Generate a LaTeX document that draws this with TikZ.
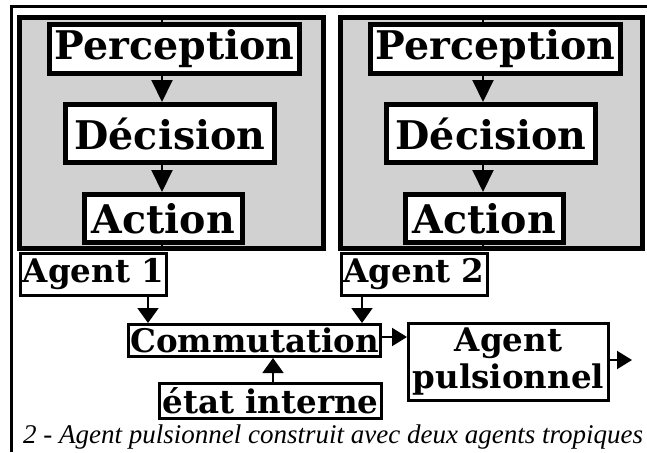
\documentclass[tikz,border=0pt]{standalone}
\usepackage{fontspec}
\setmainfont{DejaVu Serif}
\newfontfamily\capfont{Liberation Serif}
\usetikzlibrary{arrows.meta,calc}
\begin{document}
\begin{tikzpicture}[x=1pt,y=-1pt,
  agentbox/.style={draw, line width=5pt, fill=black!18, inner sep=0pt},
  bigbox/.style={draw, line width=5pt, fill=white, inner sep=0pt, font=\fontsize{39.5}{42}\selectfont\bfseries},
  smallbox/.style={draw, line width=3pt, fill=white, inner sep=0pt, align=center, font=\fontsize{32.5}{37}\selectfont\bfseries},
  flow/.style={line width=2pt, -{Triangle[length=22pt,width=21pt]}},
  flowb/.style={line width=2pt, -{Triangle[length=15pt,width=21pt]}},
  flowr/.style={line width=2pt, -{Triangle[length=15pt,width=18pt]}},
  plain/.style={line width=2pt},
  rule/.style={line width=3pt}
]
\useasboundingbox (0,0) rectangle (647,452);
\fill[white] (0,0) rectangle (647,452);
\draw[rule] (10,6.5) -- (647,6.5);
\draw[rule] (11.5,5) -- (11.5,452);

\coordinate (c1) at (162,0);
\coordinate (c2) at (483,0);

% Agent 1
\node[agentbox, minimum width=304pt, minimum height=231pt] (ag1) at (171.5,133) {};
\node[bigbox, minimum width=250pt, minimum height=49pt] (p1) at (174.5,49) {Perception};
\node[bigbox, minimum width=209pt, minimum height=58pt] (d1) at (170,133.5) {Décision};
\node[bigbox, minimum width=158pt, minimum height=48pt] (a1) at (163.5,218.5) {Action};
\draw[plain] (ag1.north -| c1) -- (p1.north -| c1);
\draw[flow] (p1.south -| c1) -- (d1.north -| c1);
\draw[flow] (d1.south -| c1) -- (a1.north -| c1);
\draw[plain] (a1.south -| c1) -- (ag1.south -| c1);

% Agent 2
\node[agentbox, minimum width=302pt, minimum height=231pt] (ag2) at (491.5,133) {};
\node[bigbox, minimum width=250pt, minimum height=49pt] (p2) at (495.5,49) {Perception};
\node[bigbox, minimum width=209pt, minimum height=58pt] (d2) at (491,133.5) {Décision};
\node[bigbox, minimum width=158pt, minimum height=48pt] (a2) at (484.5,218.5) {Action};
\draw[plain] (ag2.north -| c2) -- (p2.north -| c2);
\draw[flow] (p2.south -| c2) -- (d2.north -| c2);
\draw[flow] (d2.south -| c2) -- (a2.north -| c2);
\draw[plain] (a2.south -| c2) -- (ag2.south -| c2);

% labels
\node[smallbox, minimum width=146pt, minimum height=42pt] (l1) at (93.5,274.5) {Agent 1};
\node[smallbox, minimum width=146pt, minimum height=42pt] (l2) at (414,274.5) {Agent 2};

\node[smallbox, minimum width=252pt, minimum height=32pt] (com) at (254.5,340.5) {Commutation};
\node[smallbox, minimum width=200pt, minimum height=77pt] (ap) at (508.5,362) {Agent\\pulsionnel};
\node[smallbox, minimum width=222pt, minimum height=35pt] (et) at (270.5,401) {état interne};

\coordinate (c3) at (148,0);
\coordinate (c4) at (362,0);
\coordinate (c5) at (273,0);
\coordinate (r1) at (0,337);
\coordinate (out) at (632,360);

\draw[flowb] (l1.south -| c3) -- (com.north -| c3);
\draw[flowb] (l2.south -| c4) -- (com.north -| c4);
\draw[flowb] (et.north -| c5) -- (com.south -| c5);
\draw[flowr] (com.east |- r1) -- (ap.west |- r1);
\draw[flowr] (ap.east |- out) -- (out);

\node[anchor=base west, inner sep=0pt, font=\capfont\itshape\fontsize{27}{30}\selectfont] (cap) at (23,443) {2 - Agent pulsionnel construit avec deux agents tropiques};
\end{tikzpicture}
\end{document}
